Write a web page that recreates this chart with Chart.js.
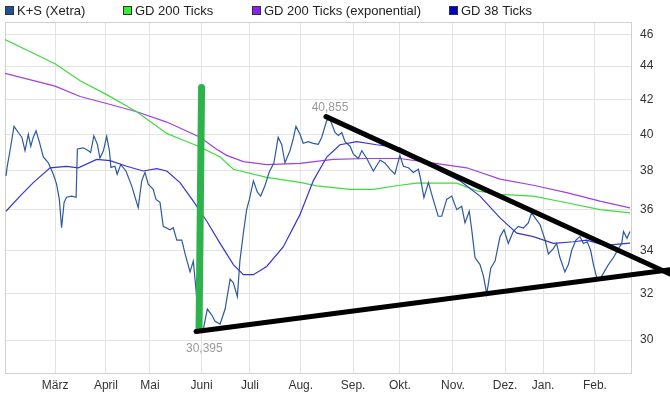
<!DOCTYPE html>
<html lang="de">
<head>
<meta charset="utf-8">
<title>K+S (Xetra)</title>
<script src="https://cdn.jsdelivr.net/npm/chart.js@4.4.1/dist/chart.umd.min.js"></script>
<style>
  body { margin: 0; background: #fff; }
  #wrap { width: 670px; height: 393px; position: relative; }
</style>
</head>
<body>
<div id="wrap"><canvas id="chart-ks"></canvas></div>
<script>
// x = Handelstag seit Mitte Februar, y = Kurs in EUR
var monthLabels = ['März', 'April', 'Mai', 'Juni', 'Juli', 'Aug.', 'Sep.', 'Okt.', 'Nov.', 'Dez.', 'Jan.', 'Feb.'];
var monthDays = [20, 40.3, 57.9, 78.5, 97.8, 118.1, 139, 157.7, 178.9, 199.7, 214.9, 235.6];
var yTicks = [30, 32, 34, 36, 38, 40, 42, 44, 46];

var ksDays = [0.4, 0.9, 2.0, 3.6, 5.3, 6.7, 8.0, 9.3, 10.3, 11.3, 12.4, 13.7, 15.3, 17.3, 19.3, 20.6, 21.7, 22.6, 23.6, 24.6,
  26.6, 28.4, 28.9, 31.3, 33.3, 34.2, 35.5, 36.9, 37.9, 39.3, 40.6, 41.7, 42.3, 43.9, 44.8, 46.2, 48.3, 50.6, 53.2, 54.6,
  55.9, 57.2, 59.2, 60.3, 61.9, 63.2, 65.9, 67.2, 68.6, 70.6, 71.9, 73.9, 75.2, 76.3, 77.6, 79.1, 80.8, 82.5, 83.9, 85.9,
  87.9, 89.9, 91.2, 92.8, 93.8, 95.2, 96.5, 97.6, 99.2, 100.8, 102.1, 103.8, 105.5, 107.4, 109.1, 110.5, 111.8, 113.8, 115.1, 116.2,
  117.8, 119.1, 121.1, 123.1, 125.1, 126.5, 128.5, 129.8, 131.8, 133.1, 134.5, 135.8, 137.8, 139.1, 141.1, 142.5, 144.5, 147.1, 149.8, 151.8,
  153.8, 155.7, 157.7, 159.1, 161.1, 163.1, 165.1, 166.0, 167.3, 169.1, 171.0, 173.0, 174.4, 176.4, 178.4, 180.4, 182.4, 183.7, 185.4, 186.4,
  187.7, 189.7, 191.0, 192.4, 194.0, 195.7, 197.7, 199.3, 201.0, 203.0, 205.0, 207.0, 209.0, 210.3, 211.7, 213.7, 215.7, 217.0, 219.0, 220.3,
  221.6, 223.6, 225.0, 226.3, 228.0, 229.6, 231.0, 232.5, 233.9, 235.0, 236.3, 237.6, 239.3, 241.0, 243.0, 245.0, 246.3, 247.0, 248.4, 249.6];
var ksClose = [37.74, 38.25, 39.09, 40.45, 40.10, 39.84, 39.09, 40.00, 39.34, 39.84, 40.20, 39.59, 38.75, 38.44, 37.83, 37.31, 36.52, 35.10, 36.37, 36.63,
  36.69, 36.63, 39.19, 39.25, 39.09, 39.00, 39.92, 39.44, 38.69, 39.09, 39.89, 39.09, 38.19, 38.25, 37.83, 38.34, 38.00, 37.22, 36.10, 37.48,
  37.93, 37.31, 37.04, 36.52, 36.37, 35.17, 35.00, 35.10, 34.50, 34.50, 33.85, 33.00, 33.50, 32.17, 30.40, 30.40, 31.33, 31.08, 30.80, 30.68,
  31.33, 32.67, 32.50, 31.88, 33.50, 34.85, 36.00, 36.52, 37.48, 36.89, 36.69, 37.22, 37.93, 38.44, 39.84, 39.44, 38.44, 39.09, 39.75, 40.45,
  40.00, 39.50, 39.59, 39.50, 39.44, 39.84, 40.79, 40.855, 40.10, 39.94, 40.10, 39.59, 39.34, 38.92, 38.67, 39.09, 38.67, 38.00, 38.59, 38.42,
  38.09, 37.83, 38.84, 38.25, 38.17, 37.92, 38.09, 37.57, 36.61, 37.39, 36.52, 35.67, 35.67, 36.52, 36.69, 36.00, 36.17, 35.34, 35.92, 35.00,
  33.67, 33.34, 32.84, 32.00, 33.17, 33.50, 34.67, 35.00, 34.34, 34.92, 35.17, 35.09, 35.34, 35.84, 35.59, 35.25, 34.50, 33.84, 34.09, 34.34,
  33.67, 33.00, 33.34, 34.00, 34.50, 34.67, 34.34, 34.42, 34.00, 33.34, 32.75, 32.67, 33.00, 33.34, 33.67, 34.09, 34.34, 34.92, 34.59, 34.92];

var gd200Days = [0, 20.0, 30.0, 40.6, 52.6, 64.6, 71.2, 76.6, 85.9, 91.2, 104.5, 117.8, 124.5, 137.8, 147.1, 157.7, 164.4, 180.4, 188.4, 197.7, 211.0, 224.3, 237.6, 249.6];
var gd200 = [45.67, 44.15, 43.11, 42.28, 41.28, 40.05, 39.67, 39.38, 38.75, 38.09, 37.66, 37.40, 37.22, 37.04, 37.04, 37.25, 37.36, 37.36, 36.96, 36.78, 36.69, 36.35, 36.00, 35.84];

var gd200expDays = [0, 20.0, 30.0, 40.6, 52.6, 64.6, 77.9, 84.5, 88.5, 95.2, 104.5, 117.8, 131.1, 144.5, 157.7, 171.1, 184.4, 197.7, 211.0, 224.3, 237.6, 249.6];
var gd200exp = [43.56, 42.79, 42.17, 41.76, 41.28, 40.69, 39.84, 39.17, 38.84, 38.50, 38.34, 38.41, 38.62, 38.67, 38.67, 38.42, 38.17, 37.57, 37.25, 36.87, 36.43, 36.09];

var gd38Days = [0.4, 6.0, 11.3, 18.0, 24.6, 29.3, 36.6, 41.9, 48.6, 55.2, 60.6, 64.6, 69.9, 75.2, 80.6, 85.9, 91.2, 95.2, 99.2, 104.5,
  111.1, 117.8, 123.1, 128.5, 133.8, 140.5, 148.4, 157.7, 164.4, 173.7, 181.7, 189.7, 197.7, 204.4, 211.0, 219.0, 227.0, 232.3, 239.6, 249.6];
var gd38 = [35.92, 36.69, 37.39, 38.17, 38.25, 38.17, 38.62, 38.55, 38.25, 38.00, 38.12, 38.00, 37.39, 36.43, 35.42, 34.34, 33.34, 32.87, 32.87, 33.25,
  34.17, 35.75, 37.48, 38.75, 39.42, 39.59, 39.42, 39.25, 38.75, 38.00, 37.48, 36.69, 35.59, 34.84, 34.67, 34.34, 34.42, 34.50, 34.25, 34.35];

// eingezeichnete Linien (Hand-Markierungen)
var markDays = [78.5, 77.5];
var markValues = [42.7, 30.5];
var trendTopDays = [128.2, 265.6];
var trendTopValues = [41.0, 32.9];
var trendLowDays = [76.3, 265.6];
var trendLowValues = [30.36, 33.1];

// Hoch / Tief
var highDay = 129.8, highValue = 40.855;
var lowDay = 77.6, lowValue = 30.395;

function pts(xs, ys) {
  return xs.map(function (x, i) { return { x: x, y: ys[i] }; });
}

var FONT = '"Liberation Sans", Arial, sans-serif';

var framePlugin = {
  id: 'frame',
  beforeDatasetsDraw: function (chart) {
    var a = chart.chartArea, ctx = chart.ctx;
    ctx.save();
    ctx.strokeStyle = '#d0d0d0';
    ctx.lineWidth = 1;
    ctx.strokeRect(Math.round(a.left) + 0.5, Math.round(a.top) + 0.5, Math.round(a.right - a.left), Math.round(a.bottom - a.top));
    ctx.restore();
  }
};

var extremesPlugin = {
  id: 'extremes',
  afterDatasetsDraw: function (chart) {
    var ctx = chart.ctx, xs = chart.scales.x, ys = chart.scales.y;
    ctx.save();
    ctx.font = '12px ' + FONT;
    ctx.fillStyle = '#9a9a9a';
    ctx.textAlign = 'center';
    ctx.textBaseline = 'alphabetic';
    ctx.fillText(highValue.toFixed(3).replace('.', ','), xs.getPixelForValue(highDay), ys.getPixelForValue(highValue) - 8);
    ctx.fillText(lowValue.toFixed(3).replace('.', ','), xs.getPixelForValue(lowDay) + 5, ys.getPixelForValue(lowValue) + 21);
    ctx.restore();
  }
};

var legendPlugin = {
  id: 'boxLegend',
  afterDraw: function (chart) {
    var ctx = chart.ctx;
    var xpos = [5, 123, 252, 449];
    ctx.save();
    ctx.font = '13px ' + FONT;
    ctx.textBaseline = 'middle';
    var n = 0;
    chart.data.datasets.forEach(function (ds) {
      if (!ds.legendColor) return;
      var x = xpos[n++];
      ctx.fillStyle = ds.legendColor;
      ctx.fillRect(x, 6, 9, 9);
      ctx.strokeStyle = '#333';
      ctx.lineWidth = 1;
      ctx.strokeRect(x + 0.5, 6.5, 8, 8);
      ctx.fillStyle = '#222';
      ctx.fillText(ds.label, x + 12, 11);
    });
    ctx.restore();
  }
};

new Chart(document.getElementById('chart-ks'), {
  type: 'line',
  data: {
    datasets: [
      { label: 'trend-top', data: pts(trendTopDays, trendTopValues), borderColor: '#000', borderWidth: 5, clip: false, order: 0, borderCapStyle: 'round' },
      { label: 'trend-low', data: pts(trendLowDays, trendLowValues), borderColor: '#000', borderWidth: 5, clip: false, order: 0, borderCapStyle: 'round' },
      { label: 'mark', data: pts(markDays, markValues), borderColor: '#2db34c', borderWidth: 7, order: 1, borderCapStyle: 'round' },
      { label: 'K+S (Xetra)', legendColor: '#1f4f99', data: pts(ksDays, ksClose), borderColor: '#2d5a9e', borderWidth: 1.2, order: 3 },
      { label: 'GD 200 Ticks', legendColor: '#33ee33', data: pts(gd200Days, gd200), borderColor: '#3ddc3d', borderWidth: 1.2, order: 4 },
      { label: 'GD 200 Ticks (exponential)', legendColor: '#8a22ee', data: pts(gd200expDays, gd200exp), borderColor: '#a040e0', borderWidth: 1.2, order: 4 },
      { label: 'GD 38 Ticks', legendColor: '#0000cc', data: pts(gd38Days, gd38), borderColor: '#3636cc', borderWidth: 1.2, order: 2 }
    ]
  },
  options: {
    responsive: true,
    maintainAspectRatio: false,
    animation: false,
    elements: { point: { radius: 0 }, line: { tension: 0 } },
    layout: { padding: { left: 5, top: 22, right: 0, bottom: 0 } },
    plugins: { legend: { display: false }, tooltip: { enabled: false } },
    scales: {
      x: {
        type: 'linear',
        min: 0,
        max: 250,
        afterBuildTicks: function (s) { s.ticks = monthDays.map(function (d) { return { value: d }; }); },
        afterFit: function (s) { s.height = 20; },
        ticks: {
          autoSkip: false,
          maxRotation: 0,
          padding: 5,
          color: '#333',
          font: { family: FONT, size: 12 },
          callback: function (v, i) { return monthLabels[i]; }
        },
        grid: { color: '#e3e3e3', drawTicks: false },
        border: { display: false }
      },
      y: {
        type: 'logarithmic',
        position: 'right',
        min: 28.65,
        max: 46.8,
        bounds: 'data',
        afterBuildTicks: function (s) { s.ticks = yTicks.map(function (v) { return { value: v }; }); },
        afterFit: function (s) { s.width = 39; },
        ticks: {
          padding: 9,
          color: '#333',
          font: { family: FONT, size: 12 },
          callback: function (v) { return String(v); }
        },
        grid: { color: '#e3e3e3', drawTicks: false },
        border: { display: false }
      }
    }
  },
  plugins: [framePlugin, extremesPlugin, legendPlugin]
});
</script>
</body>
</html>
